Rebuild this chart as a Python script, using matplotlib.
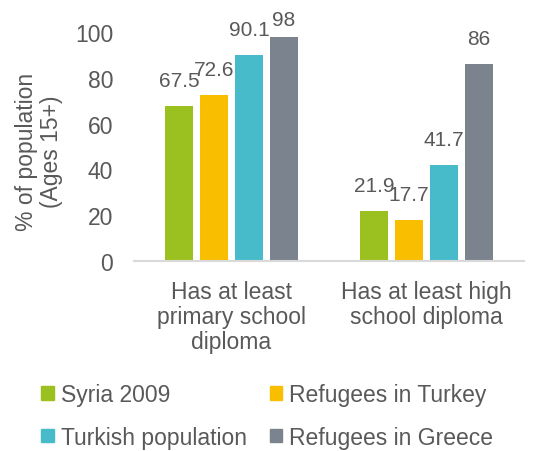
import matplotlib.pyplot as plt
import numpy as np
from matplotlib.patches import Patch

plt.rcParams['font.family'] = ['Liberation Sans', 'DejaVu Sans']

categories = ['Has at least\nprimary school\ndiploma', 'Has at least high\nschool diploma']
series = ['Syria 2009', 'Refugees in Turkey', 'Turkish population', 'Refugees in Greece']
syria_2009 = [67.5, 21.9]
refugees_turkey = [72.6, 17.7]
turkish_pop = [90.1, 41.7]
refugees_greece = [98, 86]
values = [syria_2009, refugees_turkey, turkish_pop, refugees_greece]
colors = ['#9BC120', '#F9BE00', '#48BBCA', '#7A838E']

txt = '#595959'

fig = plt.figure(figsize=(5.34, 4.52), dpi=100)
ax = fig.add_axes([0.251, 0.4204, 0.73, 0.5066])

x = np.arange(len(categories))
width = 0.144
step = 0.18
for i, (vals, c) in enumerate(zip(values, colors)):
    pos = x + (i - 1.5) * step
    ax.bar(pos, vals, width, color=c, label=series[i])
    for p, v in zip(pos, vals):
        ax.text(p, min(v + 7, 101.3), f'{v:g}', ha='center', va='bottom',
                fontsize=15, color=txt, clip_on=False)

ax.set_ylim(0, 100)
ax.set_xlim(-0.5, 1.5)
ax.set_yticks([0, 20, 40, 60, 80, 100])
ax.set_xticks(x)
ax.set_xticklabels(categories, fontsize=16.5, color=txt, linespacing=1.1)
ax.tick_params(axis='y', labelsize=16.5, labelcolor=txt, length=0, pad=15)
ax.tick_params(axis='x', length=0, pad=14)
for s in ['top', 'right', 'left']:
    ax.spines[s].set_visible(False)
ax.spines['bottom'].set_color('#D9D9D9')
ax.spines['bottom'].set_linewidth(1.5)

fig.text(0.073, 0.664, '% of population\n(Ages 15+)', rotation=90, ha='center',
         va='center', fontsize=16.5, color=txt, linespacing=1.1)

# row-major legend order: matplotlib fills columns first
order = [0, 2, 1, 3]
handles = [Patch(color=colors[k]) for k in order]
labels = [series[k] for k in order]
fig.legend(handles, labels, ncol=2, loc='upper left',
           bbox_to_anchor=(0.077, 0.15), frameon=False, fontsize=16.5,
           labelcolor=txt, handlelength=0.55, handleheight=0.55,
           handletextpad=0.3, columnspacing=1.0, labelspacing=0.85,
           borderpad=0, borderaxespad=0)

fig.savefig('out.png', dpi=100)
